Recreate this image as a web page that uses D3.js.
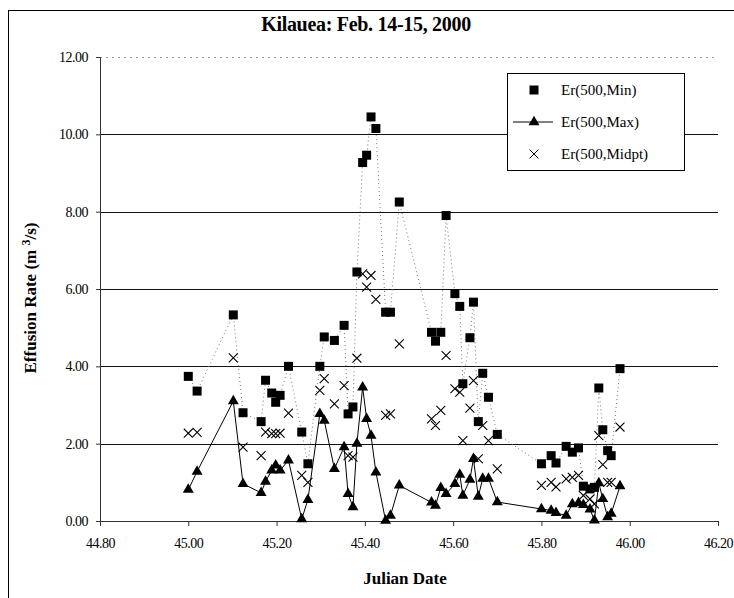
<!DOCTYPE html>
<html>
<head>
<meta charset="utf-8">
<script src="https://cdn.jsdelivr.net/npm/d3@7"></script>
<style>
  body { margin: 0; background: #fff; }
  text { font-family: "Liberation Serif", "Times New Roman", serif; }
</style>
</head>
<body>
<div id="chart"></div>
<script>
// values
var julianDate = [45.000, 45.020, 45.102, 45.124, 45.165, 45.175, 45.189, 45.198, 45.208, 45.227,
  45.257, 45.271, 45.298, 45.308, 45.331, 45.353, 45.362, 45.373, 45.382, 45.395,
  45.404, 45.414, 45.425, 45.447, 45.458, 45.478, 45.551, 45.560, 45.572, 45.584,
  45.604, 45.615, 45.622, 45.638, 45.646, 45.657, 45.667, 45.680, 45.700, 45.800,
  45.822, 45.833, 45.856, 45.870, 45.884, 45.895, 45.910, 45.920, 45.930, 45.939,
  45.950, 45.958, 45.978];

var erMin = [3.74, 3.36, 5.33, 2.80, 2.57, 3.64, 3.31, 3.07, 3.25, 4.00,
  2.30, 1.48, 4.00, 4.76, 4.67, 5.06, 2.77, 2.95, 6.44, 9.27,
  9.46, 10.45, 10.15, 5.40, 5.40, 8.25, 4.88, 4.65, 4.88, 7.90,
  5.88, 5.55, 3.55, 4.74, 5.66, 2.57, 3.82, 3.20, 2.24, 1.48,
  1.69, 1.50, 1.93, 1.78, 1.89, 0.90, 0.83, 0.87, 3.44, 2.36,
  1.82, 1.69, 3.94];

var erMax = [0.81, 1.28, 3.10, 0.96, 0.73, 1.02, 1.31, 1.44, 1.31, 1.57,
  0.05, 0.55, 2.77, 2.60, 1.35, 1.91, 0.70, 0.36, 2.00, 3.46,
  2.64, 2.21, 1.26, 0.01, 0.14, 0.92, 0.48, 0.40, 0.86, 0.70,
  0.96, 1.20, 0.66, 1.07, 1.61, 0.63, 1.10, 1.10, 0.49, 0.31,
  0.27, 0.21, 0.14, 0.44, 0.47, 0.42, 0.30, 0.02, 0.98, 0.57,
  0.10, 0.19, 0.90];

var erMidpt = [2.27, 2.29, 4.22, 1.91, 1.69, 2.30, 2.26, 2.26, 2.27, 2.79,
  1.18, 1.00, 3.38, 3.68, 3.03, 3.50, 1.69, 1.65, 4.21, 6.39,
  6.05, 6.35, 5.73, 2.73, 2.77, 4.58, 2.64, 2.47, 2.86, 4.28,
  3.42, 3.33, 2.08, 2.92, 3.63, 1.61, 2.47, 2.08, 1.35, 0.92,
  1.00, 0.88, 1.09, 1.13, 1.18, 0.66, 0.57, 0.44, 2.21, 1.46,
  1.00, 1.00, 2.43];

var xTicks = [44.8, 45.0, 45.2, 45.4, 45.6, 45.8, 46.0, 46.2];
var yTicks = [0, 2, 4, 6, 8, 10, 12];
var seriesNames = ["Er(500,Min)", "Er(500,Max)", "Er(500,Midpt)"];

var margin = { top: 57, left: 100, right: 16, bottom: 77 },
    width = 734 - margin.left - margin.right,
    height = 598 - margin.top - margin.bottom;

var svg = d3.select("#chart")
  .append("svg")
  .attr("width", 734)
  .attr("height", 598);

// chart area border (right / bottom edges run off the page like the scan)
svg.append("rect")
  .attr("x", 8.5).attr("y", 10.5)
  .attr("width", 760).attr("height", 620)
  .attr("fill", "none").attr("stroke", "#000").attr("stroke-width", 1);

svg.append("text")
  .attr("x", 366).attr("y", 31)
  .attr("text-anchor", "middle")
  .attr("font-size", 20).attr("font-weight", "bold")
  .attr("letter-spacing", "-0.3px")
  .text("Kilauea:  Feb. 14-15, 2000");

var g = svg.append("g")
  .attr("transform", "translate(" + margin.left + "," + margin.top + ")");

var x = d3.scaleLinear().domain([44.8, 46.2]).range([0, width]);
var y = d3.scaleLinear().domain([0, 12]).range([height, 0]);

// gridlines
g.selectAll(".grid")
  .data(yTicks.filter(function(d) { return d > 0; }))
  .enter().append("line")
  .attr("class", "grid")
  .attr("x1", 0).attr("x2", width)
  .attr("y1", function(d) { return Math.round(y(d)) + 0.5; })
  .attr("y2", function(d) { return Math.round(y(d)) + 0.5; })
  .attr("stroke", function(d) { return d == 12 ? "#999" : "#111"; })
  .attr("stroke-dasharray", function(d) { return d == 12 ? "2,4" : null; })
  .attr("stroke-width", 1);

var xAxis = d3.axisBottom(x).tickValues(xTicks)
  .tickFormat(d3.format(".2f")).tickSize(5).tickPadding(12);
var xg = g.append("g")
  .attr("transform", "translate(0," + height + ")")
  .call(xAxis);

var yAxis = d3.axisLeft(y).tickValues(yTicks)
  .tickFormat(d3.format(".2f")).tickSize(4).tickPadding(8);
var yg = g.append("g").call(yAxis);

[xg, yg].forEach(function(a) {
  a.select(".domain").attr("stroke", "#333");
  a.selectAll(".tick line").attr("stroke", "#333");
  a.selectAll(".tick text")
    .attr("font-family", "Liberation Serif, serif")
    .attr("font-size", 14)
    .attr("letter-spacing", "-0.5px")
    .attr("fill", "#000");
});

svg.append("text")
  .attr("text-anchor", "middle")
  .attr("transform", "translate(" + (margin.left + width / 2 - 4) + ",584)")
  .attr("font-size", 17).attr("font-weight", "bold")
  .text("Julian Date");

var yTitle = svg.append("text")
  .attr("text-anchor", "middle")
  .attr("transform", "translate(36,298)rotate(-90)")
  .attr("font-size", 17).attr("font-weight", "bold");
yTitle.append("tspan").text("Effusion Rate (m  ");
yTitle.append("tspan").attr("dy", -6).attr("font-size", 12).text("3");
yTitle.append("tspan").attr("dy", 6).text("/s)");

var points = julianDate.map(function(d, i) {
  return { date: d, min: erMin[i], max: erMax[i], mid: erMidpt[i] };
});

var lineMin = d3.line()
  .x(function(d) { return x(d.date); })
  .y(function(d) { return y(d.min); });
var lineMax = d3.line()
  .x(function(d) { return x(d.date); })
  .y(function(d) { return y(d.max); });

g.append("path")
  .datum(points)
  .attr("d", lineMin)
  .attr("fill", "none")
  .attr("stroke", "#777")
  .attr("stroke-width", 1)
  .attr("stroke-dasharray", "1,3");

g.append("path")
  .datum(points)
  .attr("d", lineMax)
  .attr("fill", "none")
  .attr("stroke", "#000")
  .attr("stroke-width", 1);

var timesSymbol = {
  draw: function(context, size) {
    var r = Math.sqrt(size) / 2;
    context.moveTo(-r, -r); context.lineTo(r, r);
    context.moveTo(-r, r); context.lineTo(r, -r);
  }
};

var square = d3.symbol().type(d3.symbolSquare).size(81);
var triangle = d3.symbol().type(d3.symbolTriangle).size(52);
var cross = d3.symbol().type(timesSymbol).size(80);

g.selectAll(".mid")
  .data(points)
  .enter().append("path")
  .attr("class", "mid")
  .attr("d", cross)
  .attr("transform", function(d) { return "translate(" + x(d.date) + "," + y(d.mid) + ")"; })
  .attr("fill", "none").attr("stroke", "#000").attr("stroke-width", 1.1);

g.selectAll(".min")
  .data(points)
  .enter().append("path")
  .attr("class", "min")
  .attr("d", square)
  .attr("transform", function(d) { return "translate(" + x(d.date) + "," + y(d.min) + ")"; })
  .attr("fill", "#000");

g.selectAll(".max")
  .data(points)
  .enter().append("path")
  .attr("class", "max")
  .attr("d", triangle)
  .attr("transform", function(d) { return "translate(" + x(d.date) + "," + y(d.max) + ")"; })
  .attr("fill", "#000");

// legend
var legend = svg.append("g").attr("transform", "translate(507,73)");
legend.append("rect")
  .attr("x", 0.5).attr("y", 0.5)
  .attr("width", 177).attr("height", 97)
  .attr("fill", "#fff").attr("stroke", "#000");

var items = legend.selectAll(".item")
  .data(seriesNames)
  .enter().append("g")
  .attr("class", "item")
  .attr("transform", function(d, i) { return "translate(0," + (17 + i * 32) + ")"; });

items.filter(function(d, i) { return i == 1; })
  .append("line")
  .attr("x1", 6).attr("x2", 46)
  .attr("stroke", "#000");

items.append("path")
  .attr("transform", "translate(27,0)")
  .attr("d", function(d, i) { return [square, triangle, cross][i](); })
  .attr("fill", function(d, i) { return i == 2 ? "none" : "#000"; })
  .attr("stroke", function(d, i) { return i == 2 ? "#000" : null; });

items.append("text")
  .attr("x", 54).attr("y", 5)
  .attr("font-size", 15)
  .text(function(d) { return d; });
</script>
</body>
</html>
